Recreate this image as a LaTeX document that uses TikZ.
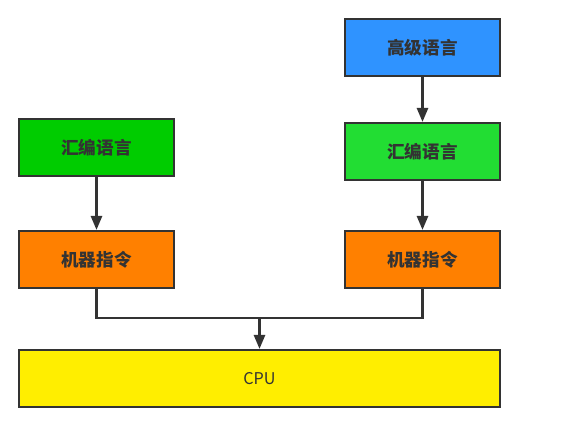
\documentclass[tikz,border=0pt]{standalone}
\usepackage{fontspec}
\setmainfont{Noto Sans CJK SC}
\usepackage{xcolor}
\usepackage{tikz}
\usetikzlibrary{arrows.meta, positioning}
\definecolor{edge}{HTML}{333333}
\definecolor{hlblue}{HTML}{2F93FF}
\definecolor{asmgreen}{HTML}{00CC00}
\definecolor{asmgreenb}{HTML}{22DD33}
\definecolor{mcorange}{HTML}{FF8000}
\definecolor{cpuyellow}{HTML}{FFEE00}

\begin{document}
\begin{tikzpicture}[>={Triangle[length=10pt,width=8pt]}, x=0.025cm, y=-0.025cm,
    box/.style={draw=edge, line width=1.6pt, minimum width=3.875cm, minimum height=1.425cm,
      inner sep=0pt, text=edge, font=\fontsize{12.5}{14}\selectfont\bfseries},
    link/.style={draw=edge, line width=1.6pt}]
  \useasboundingbox (0,0) rectangle (566,424);

  % linke Seite
  \node[box, fill=asmgreen] (asmL) at (96.5,147.5) {汇编语言};
  \node[box, fill=mcorange] (mcL) at (96.5,259.5) {机器指令};

  % rechte Seite
  \node[box, fill=hlblue] (high) at (422.5,47.5) {高级语言};
  \node[box, fill=asmgreenb] (asmR) at (422.5,151.5) {汇编语言};
  \node[box, fill=mcorange] (mcR) at (422.5,259.5) {机器指令};

  % CPU
  \node[box, fill=cpuyellow, minimum width=12.025cm, font=\fontsize{11.5}{13}\selectfont] (cpu) at (259.5,378.5) {CPU};

  \coordinate (join) at (259.5,318);

  \draw[link, ->] (high) -- (asmR);
  \draw[link, ->] (asmR) -- (mcR);
  \draw[link, ->] (asmL) -- (mcL);
  \draw[link] (mcL) |- (join);
  \draw[link] (mcR) |- (join);
  \draw[link, ->] (join) -- (cpu);
\end{tikzpicture}
\end{document}
